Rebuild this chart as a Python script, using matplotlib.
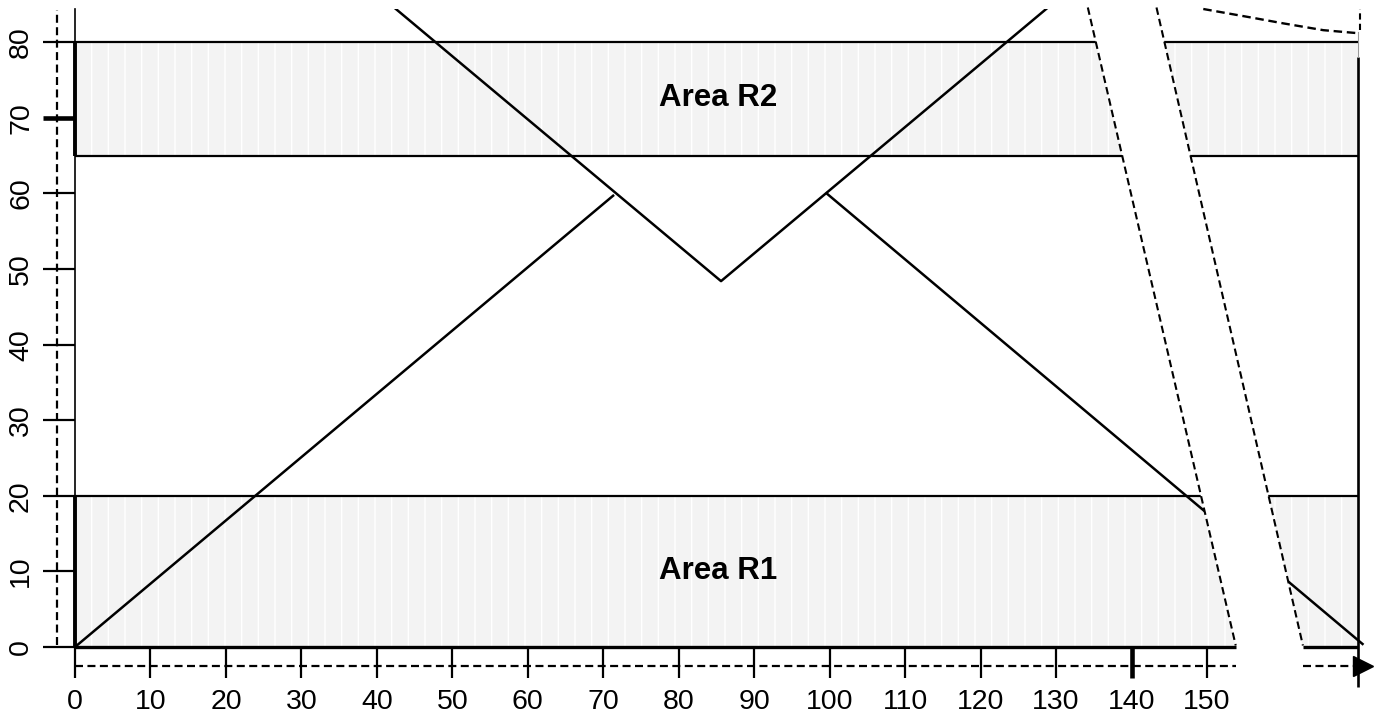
import matplotlib
matplotlib.use("Agg")
import matplotlib.pyplot as plt
from matplotlib.patches import Polygon
import numpy as np

plt.rcParams['font.family'] = ['Liberation Sans', 'DejaVu Sans']
plt.rcParams['hatch.linewidth'] = 1.0

# ---- data ----
x_ticks = list(range(0, 151, 10))
y_ticks = list(range(0, 81, 10))
band_bottoms = [0, 65]
band_tops = [20, 80]
band_labels = ["Area R1", "Area R2"]
band_label_y = [10, 72.6]
band_label_x = 85.2

rise_x = [0, 71.3]
rise_y = [0, 59.7]
vee_x = [41.8, 85.6, 129.4]
vee_y = [85.0, 48.4, 85.0]
fall_x = [99.6, 170.6]
fall_y = [60.0, 0.4]
top_curve_x = [149.5, 155.7, 160.1, 165.4, 170.0]
top_curve_y = [84.4, 83.3, 82.5, 81.6, 81.2]

x_max = 170
y_max = 84.4
break_left = [134.2, 153.8]    # x of left break edge at top / bottom
break_right = [143.3, 162.7]   # x of right break edge at top / bottom
break_top = 84.6
break_bottom = 0.2

W, H = 1380, 713
fig = plt.figure(figsize=(W / 100, H / 100), dpi=100)
ax = fig.add_axes([75 / W, 66 / H, 1283 / W, 638 / H])
ax.set_xlim(0, x_max)
ax.set_ylim(0, y_max)
for s in ax.spines.values():
    s.set_visible(False)

dash = (0, (3.6, 2.0))

# bands
for lo, hi in zip(band_bottoms, band_tops):
    ax.fill_between([0, x_max], lo, hi, facecolor='#f3f3f3', edgecolor='white',
                    hatch='|', linewidth=0, zorder=1)
ax.hlines([20, 65, 80], 0, x_max, colors='black', linewidth=1.6, zorder=2)
for lab, yy in zip(band_labels, band_label_y):
    ax.text(band_label_x, yy, lab, ha='center', va='center', fontsize=22.5,
            fontweight='bold', zorder=3)

# lines
lw = 1.8
ax.plot(rise_x, rise_y, color='black', lw=lw, zorder=3)
ax.plot(vee_x, vee_y, color='black', lw=lw, zorder=3)
ax.plot(fall_x, fall_y, color='black', lw=lw, zorder=3, clip_on=False)
ax.plot(top_curve_x, top_curve_y, color='black', lw=1.7,
        ls=dash, zorder=3, clip_on=False)

# break (white gap)
gap = Polygon([(break_left[0], break_top), (break_right[0], break_top),
               (break_right[1], 0), (break_left[1], 0)],
              closed=True, facecolor='white', edgecolor='none', zorder=4,
              clip_on=False)
ax.add_patch(gap)
for bx in (break_left, break_right):
    ax.plot(bx, [break_top, break_bottom], color='black', lw=1.5,
            ls=dash, zorder=5, clip_on=False)

# axes lines
ax.plot([0, 0], [0, y_max], color='black', lw=1.2, zorder=5, clip_on=False)
for lo, hi in zip(band_bottoms, band_tops):
    ax.plot([0, 0], [lo, hi], color='black', lw=2.8, zorder=5,
            solid_capstyle='butt', clip_on=False)
ax.plot([0, break_left[1]], [0, 0], color='black', lw=2.4, zorder=5,
        solid_capstyle='butt', clip_on=False)
ax.plot([break_right[1], x_max], [0, 0], color='black', lw=2.4, zorder=5,
        solid_capstyle='butt', clip_on=False)
# right border
ax.plot([x_max, x_max], [-5.3, 78.0], color='black', lw=1.9, zorder=5,
        solid_capstyle='butt', clip_on=False)
ax.plot([x_max, x_max], [78.0, 81.3], color='#999999', lw=0.8, zorder=5,
        clip_on=False)
ax.plot([x_max + 0.3, x_max + 0.3], [81.6, y_max], color='black', lw=1.5,
        ls=(0, (3.0, 2.0)), zorder=5, clip_on=False)

# dashed guides
ax.plot([-2.4, -2.4], [0.2, y_max - 0.1], color='black', lw=1.6,
        ls=dash, zorder=5, clip_on=False)
ax.plot([0, break_left[1]], [-2.5, -2.5], color='black', lw=1.6,
        ls=dash, zorder=5, clip_on=False)
ax.plot([break_right[1], 169.3], [-2.5, -2.5], color='black', lw=1.6,
        ls=dash, zorder=5, clip_on=False)
ax.plot([170.6], [-2.5], marker='>', color='black', markersize=15,
        zorder=6, clip_on=False)

# ticks
ax.set_xticks(x_ticks)
ax.set_yticks(y_ticks)
ax.tick_params(axis='x', direction='out', length=22.5, width=1.6, pad=7.5,
               labelsize=20.5)
ax.tick_params(axis='y', direction='out', length=23, width=1.6, pad=6.5,
               labelsize=20.5)
for lab in ax.get_yticklabels():
    lab.set_rotation(90)
    lab.set_va('center')
for t, v in zip(ax.xaxis.get_major_ticks(), x_ticks):
    if v == 140:
        t.tick1line.set_markeredgewidth(3.3)
for t, v in zip(ax.yaxis.get_major_ticks(), y_ticks):
    if v == 70:
        t.tick1line.set_markeredgewidth(3.3)

fig.savefig("out.png", dpi=100)
